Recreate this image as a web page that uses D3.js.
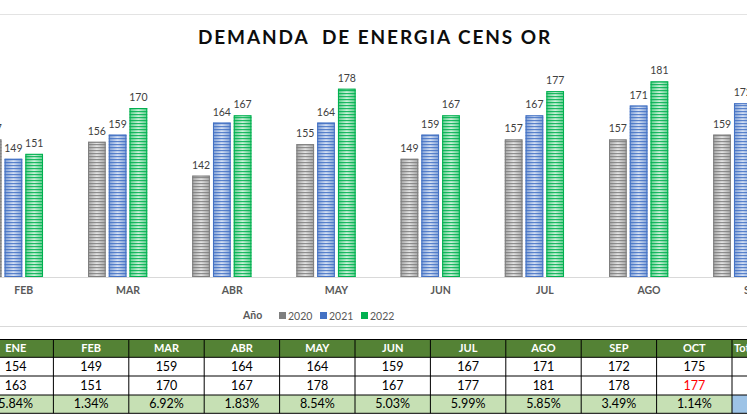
<!DOCTYPE html>
<html><head><meta charset="utf-8">
<script src="https://cdn.jsdelivr.net/npm/d3@7"></script>
<style>
html,body{margin:0;padding:0;background:#fff;}
svg{display:block;font-family:Lato,"Open Sans",sans-serif;}
</style></head>
<body><svg id="c" width="747" height="420"></svg>
<script>
const categories = ["ENE","FEB","MAR","ABR","MAY","JUN","JUL","AGO","SEP","OCT"];
const years = ["2020","2021","2022"];
const v2020 = [155,157,156,142,155,149,157,157,159,161];
const v2021 = [154,149,159,164,164,159,167,171,172,175];
const v2022 = [163,151,170,167,178,167,177,181,178,177];
const varLabels = ["5.84%","1.34%","6.92%","1.83%","8.54%","5.03%","5.99%","5.85%","3.49%","1.14%"];
const tableCols = ["ENE","FEB","MAR","ABR","MAY","JUN","JUL","AGO","SEP","OCT","Total"];
const yDomain = [100, 200];
const title = "DEMANDA  DE ENERGIA CENS OR";

const series = [
  {key:"2020", values:v2020, dark:"#7f7f7f", edge:"#a6a6a6", light:"#e4e4e4"},
  {key:"2021", values:v2021, dark:"#4472c4", edge:"#7f9fd6", light:"#d6e1f4"},
  {key:"2022", values:v2022, dark:"#00b050", edge:"#5fcf8d", light:"#cdf1db"}
];

const svg = d3.select("#c");
const defs = svg.append("defs");
series.forEach((s,i)=>{
  const g = defs.append("linearGradient").attr("id","g"+i).attr("x1","0").attr("x2","1").attr("y1","0").attr("y2","0");
  g.append("stop").attr("offset","0").attr("stop-color",s.edge);
  g.append("stop").attr("offset","0.5").attr("stop-color",s.light);
  g.append("stop").attr("offset","1").attr("stop-color",s.edge);
  const p = defs.append("pattern").attr("id","p"+i).attr("patternUnits","userSpaceOnUse").attr("width",4).attr("height",3);
  p.append("rect").attr("x",0).attr("y",0).attr("width",4).attr("height",1.2).attr("fill",s.dark).attr("opacity",0.85);
});

// frame lines
svg.append("line").attr("x1",0).attr("x2",747).attr("y1",14.5).attr("y2",14.5).attr("stroke","#e3e3e3");
svg.append("line").attr("x1",0).attr("x2",747).attr("y1",326.5).attr("y2",326.5).attr("stroke","#d9d9d9");

// title
svg.append("text").attr("x",375).attr("y",44).attr("text-anchor","middle")
  .attr("font-size",19).attr("font-weight","bold").attr("letter-spacing",1.9).attr("fill","#0d0d0d")
  .style("white-space","pre").text(title);

const x = d3.scaleBand().domain(categories).range([-132.5, 909.5]);
const slots = [...years, "hidden"];
const xi = d3.scaleBand().domain(slots).range([-40, 40]).paddingInner(0.15);
const y = d3.scaleLinear().domain(yDomain).range([277, 35.6]);

const plot = svg.append("g");
series.forEach((s,i)=>{
  const g = plot.append("g");
  categories.forEach((c,j)=>{
    const bx = x(c) + x.bandwidth()/2 + xi(s.key);
    const by = y(s.values[j]);
    const h = y(yDomain[0]) - by;
    g.append("rect").attr("x",bx).attr("y",by).attr("width",xi.bandwidth()).attr("height",h).attr("fill",`url(#g${i})`);
    g.append("rect").attr("x",bx).attr("y",by).attr("width",xi.bandwidth()).attr("height",h).attr("fill",`url(#p${i})`);
    g.append("rect").attr("x",bx+0.5).attr("y",by+0.5).attr("width",xi.bandwidth()-1).attr("height",h-1)
      .attr("fill","none").attr("stroke",s.dark).attr("stroke-width",1);
    g.append("text").attr("x",bx+xi.bandwidth()/2).attr("y",by-7).attr("text-anchor","middle")
      .attr("font-size",10.5).attr("fill","#404040").text(s.values[j]);
  });
});

// axis
const axis = svg.append("g").attr("transform",`translate(0,${y(yDomain[0])})`)
  .call(d3.axisBottom(x).tickSize(0).tickPadding(10));
axis.select(".domain").attr("stroke","#d9d9d9").attr("d","M0,0.5H747");
axis.selectAll("text").attr("font-size",10.5).attr("font-weight","bold").attr("fill","#595959")
  .attr("font-family","Lato,'Open Sans',sans-serif");

// legend
const lg = svg.append("g");
lg.append("text").attr("x",243).attr("y",319).attr("font-size",10.5).attr("font-weight","bold").attr("fill","#595959").text("Año");
const legX = d3.scaleOrdinal().domain(years).range([279,320,361]);
series.forEach(s=>{
  lg.append("rect").attr("x",legX(s.key)).attr("y",312).attr("width",7).attr("height",7).attr("fill",s.dark);
  lg.append("text").attr("x",legX(s.key)+9).attr("y",319.5).attr("font-size",10.5).attr("fill","#595959").text(s.key);
});

// table
const tx = d3.scaleBand().domain(tableCols).range([-22, -22 + 11*75.4]);
const rowY = [339.5, 357.3, 376, 395, 413.3];
const tb = svg.append("g");
tb.append("rect").attr("x",0).attr("y",rowY[0]).attr("width",747).attr("height",rowY[1]-rowY[0]).attr("fill","#548235");
tb.append("rect").attr("x",0).attr("y",rowY[3]).attr("width",747).attr("height",rowY[4]-rowY[3]).attr("fill","#c6e0b4");
tb.append("rect").attr("x",tx("Total")).attr("y",rowY[3]).attr("width",tx.bandwidth()).attr("height",rowY[4]-rowY[3]).attr("fill","#9dc3e6");
rowY.forEach(ry=>tb.append("line").attr("x1",0).attr("x2",747).attr("y1",ry).attr("y2",ry).attr("stroke","#000").attr("stroke-width",1));
tableCols.forEach(c=>{
  const xx = tx(c);
  if (xx>0) tb.append("line").attr("x1",xx).attr("x2",xx).attr("y1",rowY[0]).attr("y2",rowY[4]).attr("stroke","#000").attr("stroke-width",1);
});
categories.forEach((c,j)=>{
  const cx = tx(c)+tx.bandwidth()/2;
  tb.append("text").attr("x",cx).attr("y",rowY[1]-5).attr("text-anchor","middle").attr("font-size",11).attr("font-weight","bold").attr("fill","#fff").text(c);
  tb.append("text").attr("x",cx).attr("y",rowY[2]-5).attr("text-anchor","middle").attr("font-size",12.5).attr("fill","#000").text(v2021[j]);
  tb.append("text").attr("x",cx).attr("y",rowY[3]-5).attr("text-anchor","middle").attr("font-size",12.5).attr("fill",c==="OCT"?"#ff0000":"#000").text(v2022[j]);
  tb.append("text").attr("x",cx).attr("y",rowY[4]-5).attr("text-anchor","middle").attr("font-size",12.5).attr("fill","#000").text(varLabels[j]);
});
tb.append("text").attr("x",tx("Total")+2).attr("y",rowY[1]-5).attr("font-size",11).attr("font-weight","bold").attr("fill","#fff").text("Total");
</script></body></html>
